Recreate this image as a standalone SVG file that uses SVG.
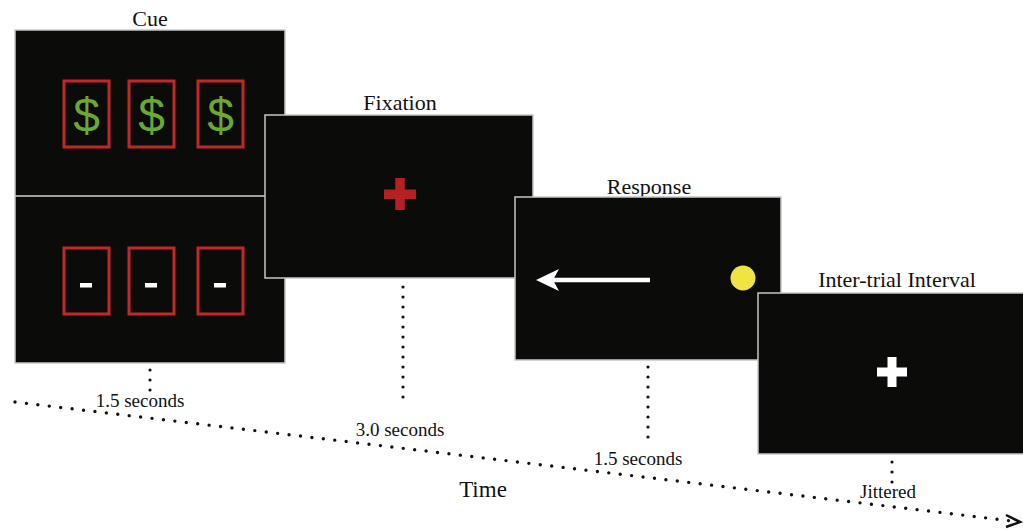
<svg xmlns="http://www.w3.org/2000/svg" width="1023" height="531" viewBox="0 0 1023 531">
<style>
.panel{fill:#0b0b0a;stroke:#c8c8c8;stroke-width:1.5}
.lbl{font-family:"Liberation Serif","Times New Roman",serif;font-size:22px;fill:#111;text-anchor:middle}
.sm{font-family:"Liberation Serif","Times New Roman",serif;font-size:19px;fill:#111;text-anchor:middle}
.box{fill:none;stroke:#c0282a;stroke-width:3}
.dol{font-family:"Liberation Sans",Arial,sans-serif;font-size:48px;fill:#6aa832;text-anchor:middle}
.dots{fill:none;stroke:#111;stroke-width:3.2;stroke-linecap:round;stroke-dasharray:0 10}
.tdots{fill:none;stroke:#111;stroke-width:3.4;stroke-linecap:round;stroke-dasharray:0 11.5}
</style>
<rect width="1023" height="531" fill="#fff"/>
<g id="connectors">
<line class="tdots" x1="15" y1="402" x2="1012" y2="521"/>
<polyline points="1006,515 1020,522 1006,527" fill="none" stroke="#111" stroke-width="2.5"/>
<line class="dots" x1="150" y1="370" x2="150" y2="391"/>
<line class="dots" x1="403" y1="287" x2="403" y2="405"/>
<line class="dots" x1="648" y1="367" x2="648" y2="446"/>
<line class="dots" x1="892" y1="462" x2="892" y2="483"/>
</g>
<g id="cue">
<text class="lbl" x="150" y="26">Cue</text>
<rect class="panel" x="15" y="30" width="270" height="333"/>
<line x1="15" y1="196" x2="285" y2="196" stroke="#d0d0d0" stroke-width="1.5"/>
<rect class="box" x="64" y="81" width="45" height="66"/>
<rect class="box" x="129" y="81" width="45" height="66"/>
<rect class="box" x="198" y="81" width="45" height="66"/>
<text class="dol" x="86.5" y="132">$</text>
<text class="dol" x="151.5" y="132">$</text>
<text class="dol" x="220.5" y="132">$</text>
<rect class="box" x="64" y="248" width="45" height="66"/>
<rect class="box" x="129" y="248" width="45" height="66"/>
<rect class="box" x="198" y="248" width="45" height="66"/>
<rect x="80" y="283" width="12" height="4.5" fill="#fff"/>
<rect x="145" y="283" width="12" height="4.5" fill="#fff"/>
<rect x="214" y="283" width="12" height="4.5" fill="#fff"/>
<text class="sm" x="140" y="407">1.5 seconds</text>
</g>
<g id="fixation">
<text class="lbl" x="400" y="110">Fixation</text>
<rect class="panel" x="265" y="115" width="268" height="163"/>
<rect x="384" y="189.5" width="32" height="9.5" fill="#b52020"/>
<rect x="395.25" y="178" width="9.5" height="32" fill="#b52020"/>
<text class="sm" x="400" y="436">3.0 seconds</text>
</g>
<g id="response">
<text class="lbl" x="649" y="194">Response</text>
<rect class="panel" x="515" y="197" width="266" height="163"/>
<line x1="650" y1="280" x2="550" y2="280" stroke="#fff" stroke-width="4.5"/>
<path d="M536,280 L559,269 L553,280 L559,291 Z" fill="#fff"/>
<circle cx="743" cy="278" r="12.5" fill="#f0e442"/>
<text class="sm" x="638" y="465">1.5 seconds</text>
</g>
<g id="iti">
<text class="lbl" x="897" y="287">Inter-trial Interval</text>
<rect class="panel" x="758" y="293" width="270" height="161"/>
<rect x="877" y="367.5" width="30" height="9" fill="#fff"/>
<rect x="887.5" y="357" width="9" height="30" fill="#fff"/>
<text class="sm" x="888" y="498">Jittered</text>
</g>
<text class="lbl" x="483" y="497" style="font-size:23px">Time</text>
</svg>
